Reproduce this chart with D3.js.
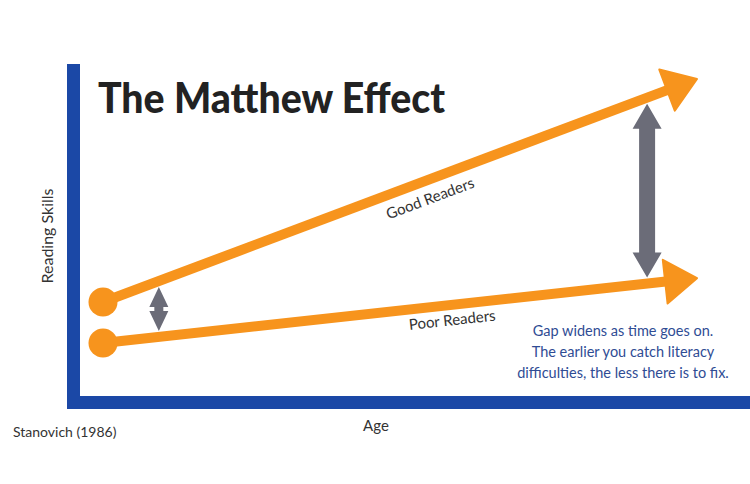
<!DOCTYPE html>
<html>
<head>
<meta charset="utf-8">
<script src="https://cdn.jsdelivr.net/npm/d3@7"></script>
<style>
  body { margin: 0; background: #fff; }
  svg { display: block; }
</style>
</head>
<body>
<div id="chart"></div>
<script>
// ages along the x axis: start and end of the two trajectories
const ages = [0, 10];
const seriesNames = ["Good Readers", "Poor Readers"];
const goodReaders = [2.84, 9.58];
const poorReaders = [1.60, 3.56];
// ages where the gap between the two groups is marked
const gapAges = [0.94, 9.16];
const annotation = [
  "Gap widens as time goes on.",
  "The earlier you catch literacy",
  "difficulties, the less there is to fix."
];

const width = 750, height = 484;
const orange = "#f7941d", gray = "#6b6c78", blue = "#1b48a6";
const font = "Lato, 'Noto Sans', sans-serif";

const svg = d3.select("#chart").append("svg")
  .attr("width", width)
  .attr("height", height);

const x = d3.scaleLinear().domain([0, 10]).range([103, 697]);
const y = d3.scaleLinear().domain([0, 10]).range([396, 65]);

// axis bars
svg.append("line")
  .attr("x1", 73.5).attr("x2", 73.5)
  .attr("y1", 64).attr("y2", 409)
  .attr("stroke", blue).attr("stroke-width", 13);
svg.append("line")
  .attr("x1", 67).attr("x2", width)
  .attr("y1", 402.5).attr("y2", 402.5)
  .attr("stroke", blue).attr("stroke-width", 13);

// title
svg.append("text")
  .attr("x", 98).attr("y", 113)
  .attr("textLength", 347)
  .attr("lengthAdjust", "spacingAndGlyphs")
  .style("font-family", font)
  .style("font-weight", 900)
  .style("font-size", "42px")
  .style("fill", "#222")
  .text("The Matthew Effect");

const series = [
  { name: seriesNames[0], values: goodReaders, labelAt: 5.4, labelOff: 18 },
  { name: seriesNames[1], values: poorReaders, labelAt: 5.85, labelOff: 15 }
];

const headLen = 32, headHalf = 22;

series.forEach(function (s) {
  const x0 = x(ages[0]), y0 = y(s.values[0]);
  const x1 = x(ages[1]), y1 = y(s.values[1]);
  const len = Math.hypot(x1 - x0, y1 - y0);
  const ux = (x1 - x0) / len, uy = (y1 - y0) / len;
  const bx = x1 - ux * headLen, by = y1 - uy * headLen;

  svg.append("line")
    .attr("x1", x0).attr("y1", y0)
    .attr("x2", bx + ux * 3).attr("y2", by + uy * 3)
    .attr("stroke", orange).attr("stroke-width", 10);

  svg.append("polygon")
    .attr("points", [
      [x1, y1],
      [bx - uy * headHalf, by + ux * headHalf],
      [bx + uy * headHalf, by - ux * headHalf]
    ].map(p => p.join(",")).join(" "))
    .attr("fill", orange)
    .attr("stroke", orange)
    .attr("stroke-width", 2)
    .attr("stroke-linejoin", "round");

  svg.append("circle")
    .attr("cx", x0).attr("cy", y0)
    .attr("r", 14.5)
    .attr("fill", orange);

  // label along the line
  const lx = x(s.labelAt);
  const ly = y0 + (lx - x0) / ux * uy;
  const angle = Math.atan2(uy, ux) * 180 / Math.PI;
  svg.append("text")
    .attr("transform", "translate(" + (lx - uy * s.labelOff) + "," + (ly + ux * s.labelOff) + ") rotate(" + angle + ")")
    .attr("text-anchor", "middle")
    .attr("dy", "0.35em")
    .style("font-family", font)
    .style("font-size", "15px")
    .style("fill", "#333")
    .text(s.name);
});

// gap arrows
function lineY(values, age) {
  return y(values[0] + (values[1] - values[0]) * (age - ages[0]) / (ages[1] - ages[0]));
}

gapAges.forEach(function (a) {
  const cx = x(a);
  const top = lineY(goodReaders, a) + 6;
  const bot = lineY(poorReaders, a) - 6;
  const big = bot - top > 100;
  const hl = big ? 25 : 20, hh = big ? 14.5 : 9.5, sh = big ? 8 : 4.5;
  const pts = [
    [cx, top],
    [cx + hh, top + hl],
    [cx + sh, top + hl],
    [cx + sh, bot - hl],
    [cx + hh, bot - hl],
    [cx, bot],
    [cx - hh, bot - hl],
    [cx - sh, bot - hl],
    [cx - sh, top + hl],
    [cx - hh, top + hl]
  ];
  svg.append("polygon")
    .attr("points", pts.map(p => p.join(",")).join(" "))
    .attr("fill", gray);
});

// axis titles
svg.append("text")
  .attr("transform", "translate(53,236) rotate(-90)")
  .attr("text-anchor", "middle")
  .style("font-family", font)
  .style("font-size", "16px")
  .style("fill", "#333")
  .text("Reading Skills");

svg.append("text")
  .attr("x", 376).attr("y", 431)
  .attr("text-anchor", "middle")
  .style("font-family", font)
  .style("font-size", "15px")
  .style("fill", "#333")
  .text("Age");

svg.append("text")
  .attr("x", 13).attr("y", 437)
  .style("font-family", font)
  .style("font-size", "14px")
  .style("fill", "#333")
  .text("Stanovich (1986)");

// annotation
svg.append("g")
  .selectAll("text")
  .data(annotation)
  .join("text")
  .attr("x", 623)
  .attr("y", (d, i) => 336 + i * 21)
  .attr("text-anchor", "middle")
  .style("font-family", font)
  .style("font-size", "14.5px")
  .style("fill", "#2f4c94")
  .text(d => d);
</script>
</body>
</html>
